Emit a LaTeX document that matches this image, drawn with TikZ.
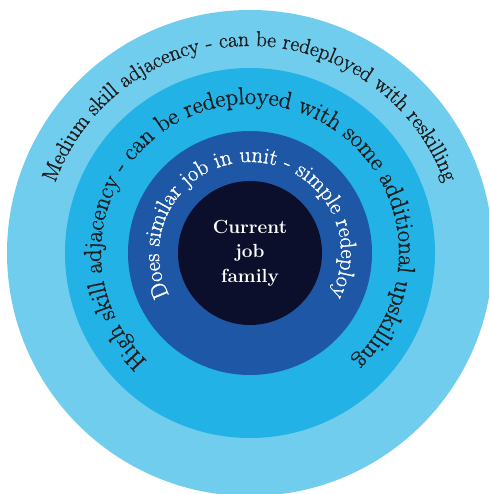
\documentclass[tikz,border=0pt]{standalone}
\usepackage{fontspec}
\usetikzlibrary{decorations.text}
\newfontfamily\ringfont{Latin Modern Roman}[FakeBold=1.2]
\definecolor{ringout}{HTML}{70CDEE}
\definecolor{ringmid}{HTML}{22B2E6}
\definecolor{ringin}{HTML}{1E57A6}
\definecolor{core}{HTML}{0B0F2C}
\definecolor{ink}{HTML}{1C1C1C}
\begin{document}
\begin{tikzpicture}[x=1pt,y=1pt,
		ringtext/.style={decorate,decoration={text along path,text align=center,text color=#1}}]
		\clip (-250,-241) rectangle (239,253);
		% the four rings, outside in
		\fill[ringout] (0,0) circle (243);
		\fill[ringmid] (0,0) circle (185);
		\fill[ringin] (0,0) circle (122);
		\fill[core] (0,0) circle (72);
		% labels running round the rings
		\path[ringtext=ink,decoration={text={|\ringfont\fontsize{21.6}{22}\selectfont|Medium skill adjacency - can be redeployed with reskilling}}]
			(180:207) arc[start angle=180,end angle=0,radius=207];
		\path[ringtext=ink,decoration={text={|\ringfont\fontsize{24.5}{25}\selectfont|High skill adjacency - can be redeployed with some additional upskilling}}]
			(265:149) arc[start angle=265,end angle=-85,radius=149];
		\path[ringtext=white,decoration={text={|\ringfont\fontsize{22.5}{23}\selectfont|Does similar job in unit - simple redeploy}}]
			(265:91) arc[start angle=265,end angle=-85,radius=91];
		\node[white,align=center,font=\fontsize{19}{24.5}\selectfont\bfseries] (family) at (0,0) {Current\\job\\family};
	\end{tikzpicture}
\end{document}
